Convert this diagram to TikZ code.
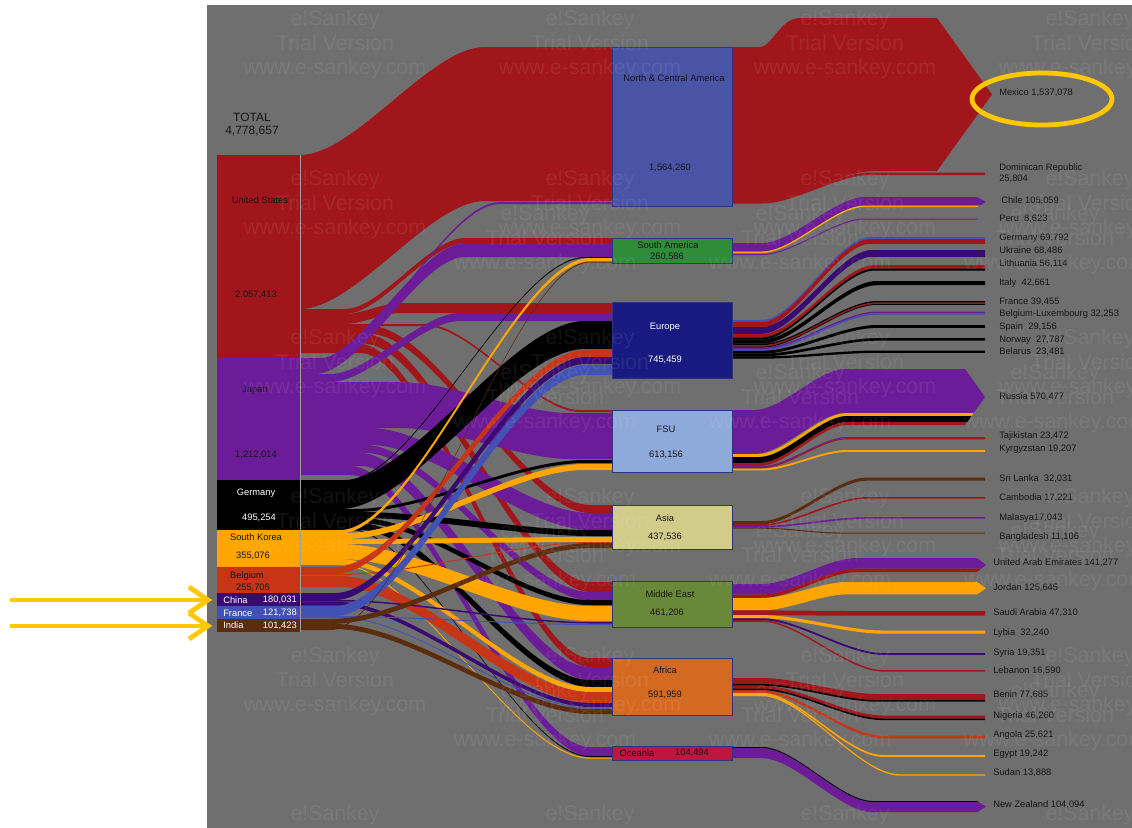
\documentclass[tikz,border=0pt]{standalone}
\usepackage{fontspec}
\setmainfont{Liberation Sans}
\definecolor{bg}{RGB}{111,111,111}
\definecolor{usred}{RGB}{160,22,26}
\definecolor{jppurple}{RGB}{108,28,152}
\definecolor{krorange}{RGB}{255,165,0}
\definecolor{beorange}{RGB}{200,52,22}
\definecolor{cnpurple}{RGB}{58,10,115}
\definecolor{frblue}{RGB}{66,82,180}
\definecolor{inbrown}{RGB}{92,44,14}
\definecolor{ncabox}{RGB}{74,84,166}
\definecolor{sabox}{RGB}{48,140,56}
\definecolor{eubox}{RGB}{24,26,130}
\definecolor{fsubox}{RGB}{142,170,218}
\definecolor{asbox}{RGB}{210,204,138}
\definecolor{mebox}{RGB}{106,136,58}
\definecolor{afbox}{RGB}{212,106,34}
\definecolor{ocbox}{RGB}{190,22,62}
\definecolor{boxline}{RGB}{50,50,130}
\definecolor{labtext}{RGB}{22,22,22}
\definecolor{hilite}{RGB}{255,200,0}
% band of constant vertical width: start x, start top y, bend start x, bend end x, end x, end top y, width
\newcommand\sflow[8]{%
  \fill[#1] (#2,#3) -- (#4,#3)
    .. controls ({#4+0.3*(#5-#4)},#3) and ({#5-0.3*(#5-#4)},#7) .. (#5,#7)
    -- (#6,#7) -- (#6,{#7+#8}) -- (#5,{#7+#8})
    .. controls ({#5-0.3*(#5-#4)},{#7+#8}) and ({#4+0.3*(#5-#4)},{#3+#8}) .. (#4,{#3+#8})
    -- (#2,{#3+#8}) -- cycle;}
% pointed end: shoulder x, top y, bottom y, tip x
\newcommand\tipclip[4]{%
  \clip (700,-50) -- (#1,-50) -- (#1,#2) -- (#4,{(#2+#3)/2}) -- (#1,#3) -- (#1,900) -- (700,900) -- cycle;}
\begin{document}
\begin{tikzpicture}[x=0.75pt,y=-0.75pt,
  lab/.style={font=\fontsize{7}{8}\selectfont, text=labtext, inner sep=0pt, anchor=west},
  clab/.style={font=\fontsize{7}{8}\selectfont, text=labtext, inner sep=0pt},
  wlab/.style={font=\fontsize{7}{8}\selectfont, text=white, inner sep=0pt},
  regionbox/.style={draw=boxline, line width=0.6pt},
  wm/.style={font=\fontsize{16}{18.4}\selectfont, text=white, text opacity=0.075, align=center, inner sep=0pt, anchor=north},
  marker/.style={draw=hilite, line width=3.6pt}]
\useasboundingbox (0,0) rectangle (1132,828);
\fill[white] (0,0) rectangle (1132,828);
\fill[bg] (207,5) rectangle (1132,828);

% ---------- flows into the regions (lowest region first) ----------
% Oceania
\sflow{jppurple}{290}{466}{350}{590}{622}{747}{9}
\sflow{black}{290}{529}{350}{590}{622}{756}{1}
\sflow{krorange}{290}{564}{340}{590}{622}{757.5}{1.2}
% Africa
\sflow{usred}{290}{344}{360}{590}{622}{658}{9}
\sflow{jppurple}{290}{453}{360}{590}{622}{667}{13}
\sflow{black}{290}{523}{360}{590}{622}{680}{7}
\sflow{krorange}{290}{559}{340}{590}{622}{687}{5}
\sflow{beorange}{290}{576}{340}{590}{622}{692}{11}
\sflow{cnpurple}{290}{601.5}{335}{590}{622}{703}{4}
\sflow{frblue}{290}{617}{340}{590}{622}{707.5}{1}
\sflow{inbrown}{290}{624}{335}{590}{622}{709}{5}
% Middle East
\sflow{usred}{290}{334}{365}{590}{622}{582}{10}
\sflow{jppurple}{290}{445}{365}{590}{622}{592}{8}
\sflow{black}{290}{518}{360}{590}{622}{600}{5}
\sflow{krorange}{290}{544}{340}{590}{622}{606}{15}
\sflow{cnpurple}{290}{600}{340}{590}{622}{622}{1.5}
\sflow{frblue}{290}{616}{340}{590}{622}{624}{1}
% Asia
\sflow{usred}{290}{326}{370}{590}{622}{505}{8}
\sflow{jppurple}{290}{428}{370}{590}{622}{513}{17}
\sflow{black}{290}{512}{360}{590}{622}{530}{6}
\sflow{krorange}{290}{539}{350}{590}{622}{537}{5}
\sflow{beorange}{290}{574}{340}{590}{622}{542}{1}
\sflow{inbrown}{290}{619}{330}{590}{622}{543}{5}
% FSU
\sflow{usred}{290}{324}{425}{580}{622}{410}{2}
\sflow{jppurple}{290}{382}{400}{570}{622}{413}{46}
\sflow{black}{290}{509}{355}{585}{622}{460}{3}
\sflow{krorange}{290}{533}{345}{585}{622}{464}{6}
% Europe
\sflow{usred}{290}{314}{345}{400}{622}{303}{10}
\sflow{jppurple}{290}{374}{330}{460}{622}{313}{8}
\sflow{black}{290}{481}{340}{585}{622}{321}{28}
\sflow{beorange}{290}{567}{335}{585}{622}{350}{7}
\sflow{cnpurple}{290}{593}{335}{585}{622}{357}{7}
\sflow{frblue}{290}{606}{335}{585}{622}{365}{10}
% South America
\sflow{usred}{290}{309}{345}{465}{622}{238}{5}
\sflow{jppurple}{290}{360}{315}{465}{622}{243}{14}
\sflow{black}{290}{480}{345}{585}{622}{257}{1}
\sflow{krorange}{290}{530}{340}{590}{622}{258}{3.5}
\sflow{inbrown}{290}{629}{330}{590}{622}{261.5}{1}
% North & Central America
\sflow{jppurple}{290}{358}{320}{500}{622}{202}{2}
\sflow{usred}{290}{155}{300}{485}{622}{47}{154}

% ---------- flows out of the regions ----------
% Mexico and Dominican Republic
\sflow{usred}{722}{201}{762}{870}{985}{172.5}{2.5}
\fill[usred] (722,47) -- (760,47) .. controls (772,47) and (780,18) .. (800,18) -- (937,18)
  -- (992,94.5) -- (937,171) -- (875,171) .. controls (840,171) and (800,201) .. (762,201)
  -- (722,201) -- cycle;
% Chile, Peru
\begin{scope}
  \tipclip{977}{197}{207}{986}
  \sflow{jppurple}{722}{243}{762}{865}{990}{197}{8.5}
  \sflow{krorange}{722}{251.5}{762}{865}{990}{205.5}{1.5}
\end{scope}
\sflow{jppurple}{722}{254}{762}{865}{978}{218.5}{1}
% Europe destinations
\sflow{frblue}{722}{320}{762}{870}{985}{237}{2}
\sflow{usred}{722}{322}{762}{870}{985}{239}{4.9}
\sflow{cnpurple}{722}{327}{762}{872}{985}{250}{6.8}
\sflow{usred}{722}{334}{762}{875}{985}{265}{3.5}
\sflow{black}{722}{337.5}{762}{875}{985}{268.5}{2}
\sflow{black}{722}{339.5}{762}{877}{985}{281}{4.2}
\sflow{black}{722}{343.7}{762}{877}{985}{301}{1.5}
\sflow{usred}{722}{345.2}{762}{877}{985}{302.5}{1.5}
\sflow{black}{722}{346.7}{762}{877}{985}{304}{0.9}
\sflow{jppurple}{722}{347.6}{762}{877}{985}{311.5}{1.6}
\sflow{frblue}{722}{349.2}{762}{877}{985}{313.1}{1.6}
\sflow{black}{722}{350.8}{762}{877}{985}{325}{2.9}
\sflow{black}{722}{353.7}{762}{877}{985}{338}{2.7}
\sflow{black}{722}{356.4}{762}{877}{985}{350.5}{2.3}
% Russia, Tajikistan, Kyrgyzstan
\begin{scope}
  \tipclip{965}{369}{425}{985}
  \sflow{jppurple}{722}{410}{755}{845}{990}{369}{44}
  \sflow{krorange}{722}{454}{758}{847}{990}{413}{3}
  \sflow{black}{722}{457}{760}{847}{990}{416}{6}
  \sflow{usred}{722}{463}{760}{847}{990}{422}{3}
\end{scope}
\sflow{jppurple}{722}{466}{762}{847}{985}{437}{1.2}
\sflow{usred}{722}{467.2}{762}{847}{985}{438.2}{1.1}
\sflow{krorange}{722}{468.5}{762}{847}{985}{450}{1.9}
% Asia destinations
\sflow{inbrown}{722}{521}{762}{867}{985}{477.5}{3.2}
\sflow{usred}{722}{524.2}{762}{867}{985}{497}{1.7}
\sflow{jppurple}{722}{525.9}{762}{867}{985}{517}{1.7}
\sflow{inbrown}{722}{527.6}{762}{840}{985}{532.5}{1.1}
% Middle East destinations
\begin{scope}
  \tipclip{977}{558}{572}{986}
  \sflow{jppurple}{722}{584}{762}{857}{990}{558}{10.5}
  \sflow{usred}{722}{594.5}{762}{857}{990}{568.5}{3.5}
\end{scope}
\begin{scope}
  \tipclip{977}{582}{594.4}{986}
  \sflow{krorange}{722}{598}{762}{847}{990}{582}{12.4}
\end{scope}
\sflow{usred}{722}{610.4}{762}{850}{985}{611}{4.7}
\sflow{krorange}{722}{615.1}{762}{883}{985}{630.5}{3.2}
\sflow{cnpurple}{722}{618.3}{762}{883}{985}{653}{1.9}
\sflow{usred}{722}{620.2}{762}{883}{985}{670}{1.6}
% Africa destinations
\sflow{usred}{722}{678}{762}{877}{985}{694}{6}
\sflow{black}{722}{684}{762}{877}{985}{700}{1.7}
\sflow{usred}{722}{685.7}{762}{883}{985}{715.5}{3}
\sflow{black}{722}{688.7}{762}{883}{985}{718.5}{1.6}
\sflow{beorange}{722}{690.3}{762}{883}{985}{735.7}{2.6}
\sflow{krorange}{722}{692.9}{762}{883}{985}{755}{1.9}
\sflow{krorange}{722}{694.8}{762}{900}{985}{774.3}{1.4}
% New Zealand
\begin{scope}
  \tipclip{977}{801}{812.3}{986}
  \sflow{black}{722}{747}{762}{873}{990}{801}{1.2}
  \sflow{jppurple}{722}{748.2}{762}{873}{990}{802.2}{10}
\end{scope}

% ---------- source column ----------
\fill[usred] (217,155) rectangle (300,358);
\fill[jppurple] (217,358) rectangle (300,480);
\fill[black] (217,480) rectangle (300,530);
\fill[krorange] (217,530) rectangle (300,567);
\fill[beorange] (217,567) rectangle (300,593);
\fill[cnpurple] (217,593) rectangle (300,606);
\fill[frblue] (217,606) rectangle (300,619);
\fill[inbrown] (217,619) rectangle (300,632);
\draw[gray!75, line width=0.4pt] (300,155) -- (300,632);

\node[font=\fontsize{9}{10}\selectfont, text=labtext, inner sep=0pt] (total) at (252,117) {TOTAL};
\node[font=\fontsize{9}{10}\selectfont, text=labtext, inner sep=0pt] (totalv) at (252,131) {4,778,657};
\node[clab] (us) at (260,200) {United States};
\node[clab] (usv) at (256,295) {2,057,413};
\node[clab] (jp) at (255,390) {Japan};
\node[clab] (jpv) at (256,455) {1,212,014};
\node[wlab] (de) at (256,493) {Germany};
\node[wlab] (dev) at (259,518) {495,254};
\node[clab] (kr) at (256,537) {South Korea};
\node[clab] (krv) at (253,556) {355,076};
\node[clab] (be) at (247,576) {Belgium};
\node[clab] (bev) at (253,588) {255,706};
\node[wlab, anchor=west] (cn) at (223,600) {China};
\node[wlab, anchor=east] (cnv) at (297,600) {180,031};
\node[wlab, anchor=west] (fr) at (223,613) {France};
\node[wlab, anchor=east] (frv) at (297,613) {121,738};
\node[wlab, anchor=west] (in) at (223,625.5) {India};
\node[wlab, anchor=east] (inv) at (297,626) {101,423};

% ---------- regions ----------
\path[regionbox, fill=ncabox] (612,47) rectangle (732,206);
\path[regionbox, fill=sabox] (612,238) rectangle (732,263);
\path[regionbox, fill=eubox] (612,302) rectangle (732,378);
\path[regionbox, fill=fsubox] (612,410) rectangle (732,472);
\path[regionbox, fill=asbox] (612,505) rectangle (732,549);
\path[regionbox, fill=mebox] (612,581) rectangle (732,627);
\path[regionbox, fill=afbox] (612,658) rectangle (732,715);
\path[regionbox, fill=ocbox] (612,746) rectangle (732,760);

\node[clab] (nca) at (674,78) {North \& Central America};
\node[clab] (ncav) at (670,168) {1,564,260};
\node[clab] (sa) at (668,245) {South America};
\node[clab] (sav) at (667,257) {260,586};
\node[clab, text=white] (eu) at (665,327) {Europe};
\node[clab, text=white] (euv) at (665,360) {745,459};
\node[clab] (fsu) at (666,429) {FSU};
\node[clab] (fsuv) at (666,455) {613,156};
\node[clab] (as) at (665,518) {Asia};
\node[clab] (asv) at (665,537) {437,536};
\node[clab] (me) at (670,594) {Middle East};
\node[clab] (mev) at (667,613) {461,206};
\node[clab] (af) at (665,670) {Africa};
\node[clab] (afv) at (665,695) {591,959};
\node[clab] (oc) at (637,753) {Oceania};
\node[clab] (ocv) at (692,753) {104,494};

% ---------- destination labels ----------
\node[lab] (mx) at (999,93) {Mexico 1,537,078};
\node[lab] (do) at (999,168) {Dominican Republic};
\node[lab] (dov) at (999,179) {25,804};
\node[lab] (cl) at (1001,201) {Chile 105,059};
\node[lab] (pe) at (999,219) {Peru\ \ 8,623};
\node[lab] (ge) at (999,238) {Germany 69,792};
\node[lab] (ua) at (999,251) {Ukraine 68,486};
\node[lab] (lt) at (999,264) {Lithuania 56,114};
\node[lab] (it) at (999,283) {Italy\ \ 42,661};
\node[lab] (fa) at (999,302) {France 39,455};
\node[lab] (bl) at (999,314) {Belgium-Luxembourg 32,253};
\node[lab] (es) at (999,327) {Spain\ \ 29,156};
\node[lab] (no) at (999,340) {Norway\ \ 27,787};
\node[lab] (by) at (999,352) {Belarus\ \ 23,481};
\node[lab] (ru) at (999,397) {Russia 570,477};
\node[lab] (tj) at (999,436) {Tajikistan 23,472};
\node[lab] (kg) at (999,449) {Kyrgyzstan 19,207};
\node[lab] (lk) at (999,479) {Sri Lanka\ \ 32,031};
\node[lab] (kh) at (999,498) {Cambodia 17,221};
\node[lab] (my) at (999,518) {Malasya17,043};
\node[lab] (bd) at (999,537) {Bangladesh 11,106};
\node[lab] (ae) at (993,563) {United Arab Emirates 141,277};
\node[lab] (jo) at (993,588) {Jordan 125,645};
\node[lab] (sau) at (993,613) {Saudi Arabia 47,310};
\node[lab] (ly) at (993,633) {Lybia\ \ 32,240};
\node[lab] (sy) at (993,653) {Syria 19,351};
\node[lab] (lb) at (993,671) {Lebanon 16,590};
\node[lab] (bj) at (993,695) {Benin 77,685};
\node[lab] (ng) at (993,716) {Nigeria 46,260};
\node[lab] (ao) at (993,735) {Angola 25,621};
\node[lab] (eg) at (993,754) {Egypt 19,242};
\node[lab] (sd) at (993,773) {Sudan 13,888};
\node[lab] (nz) at (993,805) {New Zealand 104,094};

% ---------- watermark ----------
\begin{scope}
  \clip (207,5) rectangle (1132,828);
  \foreach \cx in {335,590,845,1090}{
    \foreach \ry in {18,178,337,496,655}
      \node[wm] (wmA-\cx-\ry) at (\cx,\ry-8) {e!Sankey\\Trial Version\\www.e-sankey.com};
    \node[wm] (wmA-\cx-last) at (\cx,805) {e!Sankey};
  }
  \foreach \cx in {545,800,1055}
    \foreach \ry in {213,372,530,690}
      \node[wm] (wmB-\cx-\ry) at (\cx,\ry-8) {e!Sankey\\Trial Version\\www.e-sankey.com};
\end{scope}

% ---------- highlight marks ----------
\draw[marker] (1042,99) ellipse [x radius=52.5pt, y radius=19.5pt];
\coordinate (chinaL) at (10,600);
\coordinate (chinaR) at (208,600);
\coordinate (indiaL) at (10,626);
\coordinate (indiaR) at (208,626);
\draw[marker] (chinaL) -- (chinaR);
\draw[marker, line join=miter] (189,587) -- (chinaR) -- (189,613);
\draw[marker] (indiaL) -- (indiaR);
\draw[marker, line join=miter] (189,613) -- (indiaR) -- (189,639);
\end{tikzpicture}
\end{document}
